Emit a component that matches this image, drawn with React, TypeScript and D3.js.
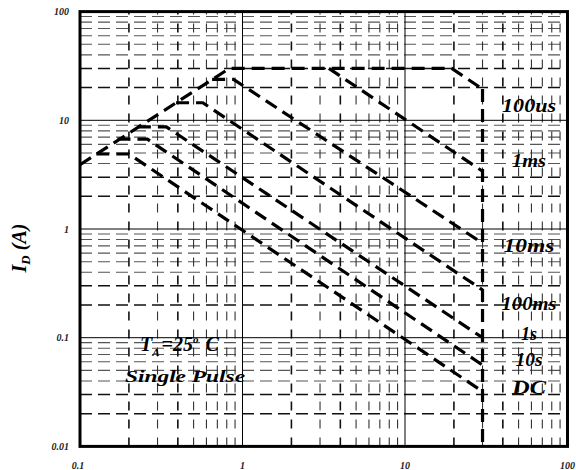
import React from "react";
import * as d3 from "d3";

// ---- axis ticks ----
const xTickValues = [0.1, 1, 10, 100];
const xTickLabels = ["0.1", "1", "10", "100"];
const yTickValues = [0.01, 0.1, 1, 10, 100];
const yTickLabels = ["0.01", "0.1", "1", "10", "100"];

// ---- SOA curves (VDS in V, ID in A) ----
const curveNames = ["100us", "1ms", "10ms", "100ms", "1s", "10s", "DC"];
const vds100us = [0.1, 0.83, 19.4, 30];
const id100us = [3.9, 30, 30, 19.4];
const vds1ms = [3.4, 30];
const id1ms = [30, 3.4];
const vds10ms = [0.65, 0.88, 30];
const id10ms = [23.8, 23.8, 0.74];
const vds100ms = [0.39, 0.57, 30];
const id100ms = [14.5, 14.5, 0.275];
const vds1s = [0.227, 0.34, 30];
const id1s = [8.7, 8.7, 0.1];
const vds10s = [0.17, 0.26, 30];
const id10s = [6.7, 6.7, 0.056];
const vdsDC = [0.126, 0.2, 30];
const idDC = [4.9, 4.9, 0.032];
const vdsLimit = [30, 30];
const idLimit = [19.4, 0.01];

// label anchor values (V, A)
const labelV = [58, 58, 58, 58, 58, 58, 58];
const labelI = [11.9, 3.72, 0.614, 0.18, 0.095, 0.055, 0.0303];
const labelWidth = [54, 34, 51, 55, 16, 27, 34];

const W = 576;
const H = 470;
const L = 80, R = 567.5, T = 11.6, B = 446.4;

export default function App() {
  const x = d3.scaleLog().domain([0.1, 100]).range([L, R]);
  const y = d3.scaleLog().domain([0.01, 100]).range([B, T]);
  const line = d3
    .line<[number, number]>()
    .x((d) => x(d[0]))
    .y((d) => y(d[1]));

  const zip = (a: number[], b: number[]) => a.map((v, i) => [v, b[i]] as [number, number]);
  const curves = [
    zip(vds100us, id100us),
    zip(vds1ms, id1ms),
    zip(vds10ms, id10ms),
    zip(vds100ms, id100ms),
    zip(vds1s, id1s),
    zip(vds10s, id10s),
    zip(vdsDC, idDC),
    zip(vdsLimit, idLimit),
  ];

  const minorX: number[] = [];
  for (const dec of [0.1, 1, 10]) for (let k = 2; k <= 9; k++) minorX.push(dec * k);
  const minorY: number[] = [];
  for (const dec of [0.01, 0.1, 1, 10]) for (let k = 2; k <= 9; k++) minorY.push(dec * k);

  const serif = "'Liberation Serif', 'DejaVu Serif', serif";

  return (
    <svg width={W} height={H} style={{ position: "absolute", left: 0, top: 0, background: "#fff" }}>
      <rect x={0} y={0} width={W} height={H} fill="#fff" />
      {/* minor grid */}
      {minorY.map((v, i) => {
        const k = Math.round(v / Math.pow(10, Math.floor(Math.log10(v) + 1e-9)));
        const strong = k <= 3;
        return (
          <line
            key={"hy" + i}
            x1={L}
            x2={R}
            y1={y(v)}
            y2={y(v)}
            stroke={strong ? "#111" : "#555"}
            strokeWidth={strong ? 1.5 : 1.1}
            strokeDasharray="12,6"
          />
        );
      })}
      {minorX.map((v, i) => {
        const k = Math.round(v / Math.pow(10, Math.floor(Math.log10(v) + 1e-9)));
        const strong = k === 2 || k === 4;
        return (
          <line
            key={"vx" + i}
            x1={x(v)}
            x2={x(v)}
            y1={B}
            y2={T}
            stroke={strong ? "#111" : "#333"}
            strokeWidth={strong ? 1.6 : 1.1}
            strokeDasharray="9,9"
          />
        );
      })}
      {/* major grid */}
      {yTickValues.slice(1, -1).map((v, i) => (
        <line key={"my" + i} x1={L} x2={R} y1={y(v)} y2={y(v)} stroke="#000" strokeWidth={1} />
      ))}
      {xTickValues.slice(1, -1).map((v, i) => (
        <line key={"mx" + i} x1={x(v)} x2={x(v)} y1={B} y2={T} stroke="#000" strokeWidth={1} />
      ))}
      {/* curves */}
      {curves.map((c, i) => (
        <path
          key={"c" + i}
          d={line(c) || ""}
          fill="none"
          stroke="#000"
          strokeWidth={3.2}
          strokeDasharray="13,7"
        />
      ))}
      {/* frame */}
      <rect x={L} y={T} width={R - L} height={B - T} fill="none" stroke="#000" strokeWidth={3} />
      {/* tick labels */}
      {yTickValues.map((v, i) => (
        <text
          key={"yl" + i}
          x={69}
          y={y(v)}
          dy="0.35em"
          textAnchor="end"
          fontFamily={serif}
          fontStyle="italic"
          fontWeight="bold"
          fontSize={10}
          fill="#222"
        >
          {yTickLabels[i]}
        </text>
      ))}
      {xTickValues.map((v, i) => (
        <text
          key={"xl" + i}
          x={x(v) - (i === 0 ? 2 : 0)}
          y={469}
          textAnchor="middle"
          fontFamily={serif}
          fontStyle="italic"
          fontWeight="bold"
          fontSize={10}
          fill="#222"
        >
          {xTickLabels[i]}
        </text>
      ))}
      {/* curve labels */}
      {curveNames.map((n, i) => (
        <text
          key={"cl" + i}
          x={x(labelV[i])}
          y={y(labelI[i])}
          textAnchor="middle"
          fontFamily={serif}
          fontStyle="italic"
          fontWeight="bold"
          fontSize={18}
          textLength={labelWidth[i]}
          lengthAdjust="spacingAndGlyphs"
          fill="#000"
        >
          {n}
        </text>
      ))}
      {/* annotation */}
      <text x={140} y={351} fontFamily={serif} fontStyle="italic" fontWeight="bold" fontSize={20} fill="#000">
        T
        <tspan fontSize={11} dy={5}>A</tspan>
        <tspan dy={-5} dx={2}>=25</tspan>
        <tspan fontSize={11} dy={-8}>o</tspan>
        <tspan dy={8} dx={2}> C</tspan>
      </text>
      <text
        x={125}
        y={382}
        fontFamily={serif}
        fontStyle="italic"
        fontWeight="bold"
        fontSize={17}
        textLength={120}
        lengthAdjust="spacingAndGlyphs"
        fill="#000"
      >
        Single Pulse
      </text>
      {/* y axis label */}
      <text
        transform="translate(26,248) rotate(-90)"
        textAnchor="middle"
        fontFamily={serif}
        fontStyle="italic"
        fontWeight="bold"
        fontSize={20}
        fill="#000"
      >
        I<tspan fontSize={13} dy={4}>D</tspan>
        <tspan dy={-4}> (A)</tspan>
      </text>
    </svg>
  );
}
